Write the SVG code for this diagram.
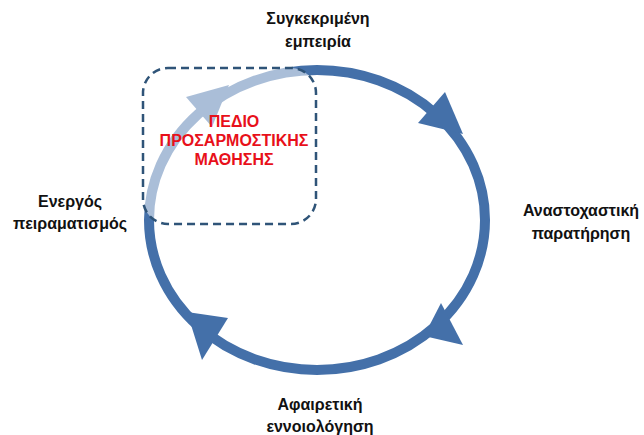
<svg xmlns="http://www.w3.org/2000/svg" width="644" height="435" viewBox="0 0 644 435">
<style>
.lbl{font-family:"Liberation Sans","DejaVu Sans",sans-serif;font-size:16px;font-weight:bold;fill:#111;text-anchor:middle}
.red{font-family:"Liberation Sans","DejaVu Sans",sans-serif;font-size:16px;font-weight:bold;fill:#E8101A;text-anchor:middle}
.ring{fill:none;stroke:#4470A9;stroke-width:10}
.head{fill:#4470A9}
</style>
<rect width="644" height="435" fill="#fff"/>
<g id="connectors">
<ellipse class="ring" cx="317" cy="220" rx="168" ry="150"/>
<polygon class="head" points="445,92 418,123 463,134"/>
<polygon class="head" points="441,303 463,345 424,336"/>
<polygon class="head" points="187,312 228,318 202,360"/>
<polygon class="head" points="186,97 212,127 229,85"/>
</g>
<g id="field">
<rect x="143" y="68" width="173" height="156" rx="25" ry="25" fill="#fff" fill-opacity="0.55" stroke="#2F5478" stroke-width="2.5" stroke-dasharray="8,5"/>
<text class="red" x="234" y="127">ΠΕΔΙΟ</text>
<text class="red" x="234" y="146">ΠΡΟΣΑΡΜΟΣΤΙΚΗΣ</text>
<text class="red" x="234" y="165">ΜΑΘΗΣΗΣ</text>
</g>
<g id="concrete">
<text class="lbl" x="318" y="24">Συγκεκριμένη</text>
<text class="lbl" x="318" y="47">εμπειρία</text>
</g>
<g id="reflective">
<text class="lbl" x="581" y="216">Αναστοχαστική</text>
<text class="lbl" x="581" y="239">παρατήρηση</text>
</g>
<g id="abstract">
<text class="lbl" x="320" y="410">Αφαιρετική</text>
<text class="lbl" x="320" y="432">εννοιολόγηση</text>
</g>
<g id="active">
<text class="lbl" x="70" y="207">Ενεργός</text>
<text class="lbl" x="70" y="229">πειραματισμός</text>
</g>
</svg>
